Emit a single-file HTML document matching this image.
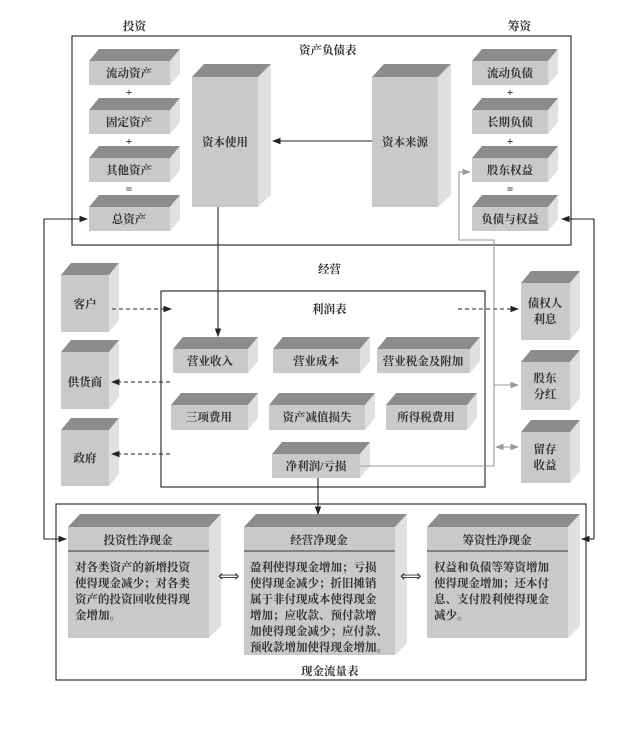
<!DOCTYPE html>
<html><head><meta charset="utf-8"><style>
body{margin:0;background:#fff}
svg text{font-family:"Liberation Serif","Noto Serif CJK SC",serif;font-weight:bold;font-size:11.5px;fill:#333}
.f{fill:#c9c9c9}.t{fill:#8c8c8c}.s{fill:#e0e0e0}
</style></head><body>
<svg width="633" height="729" viewBox="0 0 633 729" xmlns="http://www.w3.org/2000/svg">
<defs>
<marker id="a" markerWidth="8" markerHeight="6" refX="7" refY="3" orient="auto"><path d="M0,0 L8,3 L0,6 z" fill="#222"/></marker>
<marker id="g" markerWidth="8" markerHeight="6" refX="7" refY="3" orient="auto"><path d="M0,0 L8,3 L0,6 z" fill="#999"/></marker>
<marker id="gs" markerWidth="8" markerHeight="6" refX="1" refY="3" orient="auto"><path d="M8,0 L0,3 L8,6 z" fill="#999"/></marker>
</defs>
<g fill="none" stroke="#333" stroke-width="1.2">
<rect x="72" y="36" width="499" height="209"/>
<rect x="161" y="291" width="324" height="196"/>
<rect x="56" y="504" width="530" height="176"/>
</g>
<text x="123" y="30">投资</text><text x="508" y="30">筹资</text>
<text x="299" y="54">资产负债表</text>
<text x="318" y="273">经营</text>
<text x="312" y="313">利润表</text>
<text x="301" y="675">现金流量表</text>
<!-- boxes -->
<g id="boxes">
<!-- B(x,y,w,h) d=10 dy=12 -->
<g><polygon class="t" points="89,61 99,49 180,49 170,61"/><polygon class="s" points="170,61 180,49 180,73 170,85"/><rect class="f" x="89" y="61" width="81" height="24"/></g>
<g><polygon class="t" points="89,110 99,98 180,98 170,110"/><polygon class="s" points="170,110 180,98 180,122 170,134"/><rect class="f" x="89" y="110" width="81" height="24"/></g>
<g><polygon class="t" points="89,158 99,146 180,146 170,158"/><polygon class="s" points="170,158 180,146 180,170 170,182"/><rect class="f" x="89" y="158" width="81" height="24"/></g>
<g><polygon class="t" points="89,207 99,195 180,195 170,207"/><polygon class="s" points="170,207 180,195 180,219 170,231"/><rect class="f" x="89" y="207" width="81" height="24"/></g>
<g><polygon class="t" points="472,61 482,49 558,49 548,61"/><polygon class="s" points="548,61 558,49 558,73 548,85"/><rect class="f" x="472" y="61" width="76" height="24"/></g>
<g><polygon class="t" points="472,110 482,98 558,98 548,110"/><polygon class="s" points="548,110 558,98 558,122 548,134"/><rect class="f" x="472" y="110" width="76" height="24"/></g>
<g><polygon class="t" points="472,158 482,146 558,146 548,158"/><polygon class="s" points="548,158 558,146 558,170 548,182"/><rect class="f" x="472" y="158" width="76" height="24"/></g>
<g><polygon class="t" points="472,207 482,195 558,195 548,207"/><polygon class="s" points="548,207 558,195 558,219 548,231"/><rect class="f" x="472" y="207" width="76" height="24"/></g>
<g><polygon class="t" points="192,77 204,64 271,64 258,77"/><polygon class="s" points="258,77 271,64 271,195 258,207"/><rect class="f" x="192" y="77" width="66" height="130"/></g>
<g><polygon class="t" points="372,77 384,64 451,64 438,77"/><polygon class="s" points="438,77 451,64 451,195 438,207"/><rect class="f" x="372" y="77" width="66" height="130"/></g>
<!-- side actors -->
<g><polygon class="t" points="61,275 71,263 119,263 109,275"/><polygon class="s" points="109,275 119,263 119,320 109,332"/><rect class="f" x="61" y="275" width="48" height="57"/></g>
<g><polygon class="t" points="61,352 71,340 119,340 109,352"/><polygon class="s" points="109,352 119,340 119,397 109,409"/><rect class="f" x="61" y="352" width="48" height="57"/></g>
<g><polygon class="t" points="61,430 71,418 119,418 109,430"/><polygon class="s" points="109,430 119,418 119,474 109,486"/><rect class="f" x="61" y="430" width="48" height="56"/></g>
<g><polygon class="t" points="521,283 531,271 580,271 570,283"/><polygon class="s" points="570,283 580,271 580,328 570,340"/><rect class="f" x="521" y="283" width="49" height="57"/></g>
<g><polygon class="t" points="521,362 531,350 580,350 570,362"/><polygon class="s" points="570,362 580,350 580,398 570,410"/><rect class="f" x="521" y="362" width="49" height="48"/></g>
<g><polygon class="t" points="521,432 531,420 580,420 570,432"/><polygon class="s" points="570,432 580,420 580,471 570,483"/><rect class="f" x="521" y="432" width="49" height="51"/></g>
<!-- inner -->
<g><polygon class="t" points="173,349 183,337 258,337 248,349"/><polygon class="s" points="248,349 258,337 258,361 248,373"/><rect class="f" x="173" y="349" width="75" height="24"/></g>
<g><polygon class="t" points="273,349 283,337 370,337 360,349"/><polygon class="s" points="360,349 370,337 370,361 360,373"/><rect class="f" x="273" y="349" width="87" height="24"/></g>
<g><polygon class="t" points="377,349 387,337 480,337 470,349"/><polygon class="s" points="470,349 480,337 480,361 470,373"/><rect class="f" x="377" y="349" width="93" height="24"/></g>
<g><polygon class="t" points="171,405 181,393 258,393 248,405"/><polygon class="s" points="248,405 258,393 258,418 248,430"/><rect class="f" x="171" y="405" width="77" height="25"/></g>
<g><polygon class="t" points="269,405 279,393 375,393 365,405"/><polygon class="s" points="365,405 375,393 375,418 365,430"/><rect class="f" x="269" y="405" width="96" height="25"/></g>
<g><polygon class="t" points="386,405 396,393 477,393 467,405"/><polygon class="s" points="467,405 477,393 477,418 467,430"/><rect class="f" x="386" y="405" width="81" height="25"/></g>
<g><polygon class="t" points="272,454 282,442 370,442 360,454"/><polygon class="s" points="360,454 370,442 370,466 360,478"/><rect class="f" x="272" y="454" width="88" height="24"/></g>
<!-- cash -->
<g><polygon class="t" points="68,527 80,514 221,514 209,527"/><polygon class="s" points="209,527 221,514 221,626 209,638"/><rect class="f" x="68" y="527" width="141" height="111"/></g>
<g><polygon class="t" points="244,527 256,514 407,514 395,527"/><polygon class="s" points="395,527 407,514 407,643 395,655"/><rect class="f" x="244" y="527" width="151" height="128"/></g>
<g><polygon class="t" points="427,527 439,514 580,514 568,527"/><polygon class="s" points="568,527 580,514 580,626 568,638"/><rect class="f" x="427" y="527" width="141" height="111"/></g>
</g>
<g stroke="#555" stroke-width="1.2"><line x1="68" y1="551" x2="209" y2="551"/><line x1="244" y1="551" x2="395" y2="551"/><line x1="427" y1="551" x2="568" y2="551"/></g>
<!-- labels -->
<g text-anchor="middle">
<text x="129" y="77">流动资产</text><text x="129" y="126">固定资产</text><text x="129" y="174">其他资产</text><text x="129" y="223">总资产</text>
<text x="510" y="77">流动负债</text><text x="510" y="126">长期负债</text><text x="510" y="174">股东权益</text><text x="510" y="223">负债与权益</text>
<g style="font-size:9px;font-weight:normal"><text x="129" y="96">+</text><text x="129" y="145">+</text><text x="129" y="193">=</text><text x="510" y="96">+</text><text x="510" y="145">+</text><text x="510" y="193">=</text></g>
<text x="225" y="146">资本使用</text><text x="405" y="146">资本来源</text>
<text x="85" y="308">客户</text><text x="85" y="386">供货商</text><text x="85" y="462">政府</text>
<text x="545" y="307">债权人</text><text x="545" y="323">利息</text>
<text x="545" y="382">股东</text><text x="545" y="398">分红</text>
<text x="545" y="453">留存</text><text x="545" y="469">收益</text>
<text x="210" y="365">营业收入</text><text x="316" y="365">营业成本</text><text x="423" y="365">营业税金及附加</text>
<text x="209" y="421">三项费用</text><text x="317" y="421">资产减值损失</text><text x="426" y="421">所得税费用</text>
<text x="316" y="470">净利润/亏损</text>
<text x="138" y="544">投资性净现金</text><text x="319" y="544">经营净现金</text><text x="497" y="544">筹资性净现金</text>
</g>
<g style="font-size:11px">
<text x="75" y="571">对各类资产的新增投资</text><text x="75" y="587">使得现金减少；对各类</text><text x="75" y="603">资产的投资回收使得现</text><text x="75" y="619">金增加。</text>
<text x="250" y="571">盈利使得现金增加；亏损</text><text x="250" y="587">使得现金减少；折旧摊销</text><text x="250" y="603">属于非付现成本使得现金</text><text x="250" y="619">增加；应收款、预付款增</text><text x="250" y="635">加使得现金减少；应付款、</text><text x="250" y="651">预收款增加使得现金增加。</text>
<text x="434" y="571">权益和负债等筹资增加</text><text x="434" y="587">使得现金增加；还本付</text><text x="434" y="603">息、支付股利使得现金</text><text x="434" y="619">减少。</text>
</g>
<text x="218" y="581" style="font-size:15px;font-weight:normal">⟺</text>
<text x="400" y="581" style="font-size:15px;font-weight:normal">⟺</text>
<!-- connectors -->
<g fill="none" stroke="#222" stroke-width="1.1">
<line x1="372" y1="141" x2="273" y2="141" marker-end="url(#a)"/>
<line x1="218" y1="207" x2="218" y2="336" marker-end="url(#a)"/>
<line x1="318" y1="478" x2="318" y2="514" marker-end="url(#a)"/>
<polyline points="44,219 44,539 66,539" marker-end="url(#a)"/>
<polyline points="44,219 87,219" marker-end="url(#a)"/>
<polyline points="594,539 594,219 562,219" marker-end="url(#a)"/>
<line x1="594" y1="539" x2="582" y2="539" marker-end="url(#a)"/>
<g stroke-dasharray="4,3">
<line x1="112" y1="309" x2="171" y2="309" marker-end="url(#a)"/>
<line x1="170" y1="382" x2="112" y2="382" marker-end="url(#a)"/>
<line x1="170" y1="454" x2="112" y2="454" marker-end="url(#a)"/>
<line x1="458" y1="309" x2="518" y2="309" marker-end="url(#a)"/>
</g>
</g>
<g fill="none" stroke="#999" stroke-width="1.1">
<polyline points="360,466 494,466 494,240 459,240 459,172 470,172" marker-end="url(#g)"/>
<line x1="494" y1="385" x2="518" y2="385" marker-end="url(#g)"/>
<line x1="496" y1="447" x2="518" y2="447" marker-end="url(#g)" marker-start="url(#gs)"/>
</g>
</svg>
</body></html>
